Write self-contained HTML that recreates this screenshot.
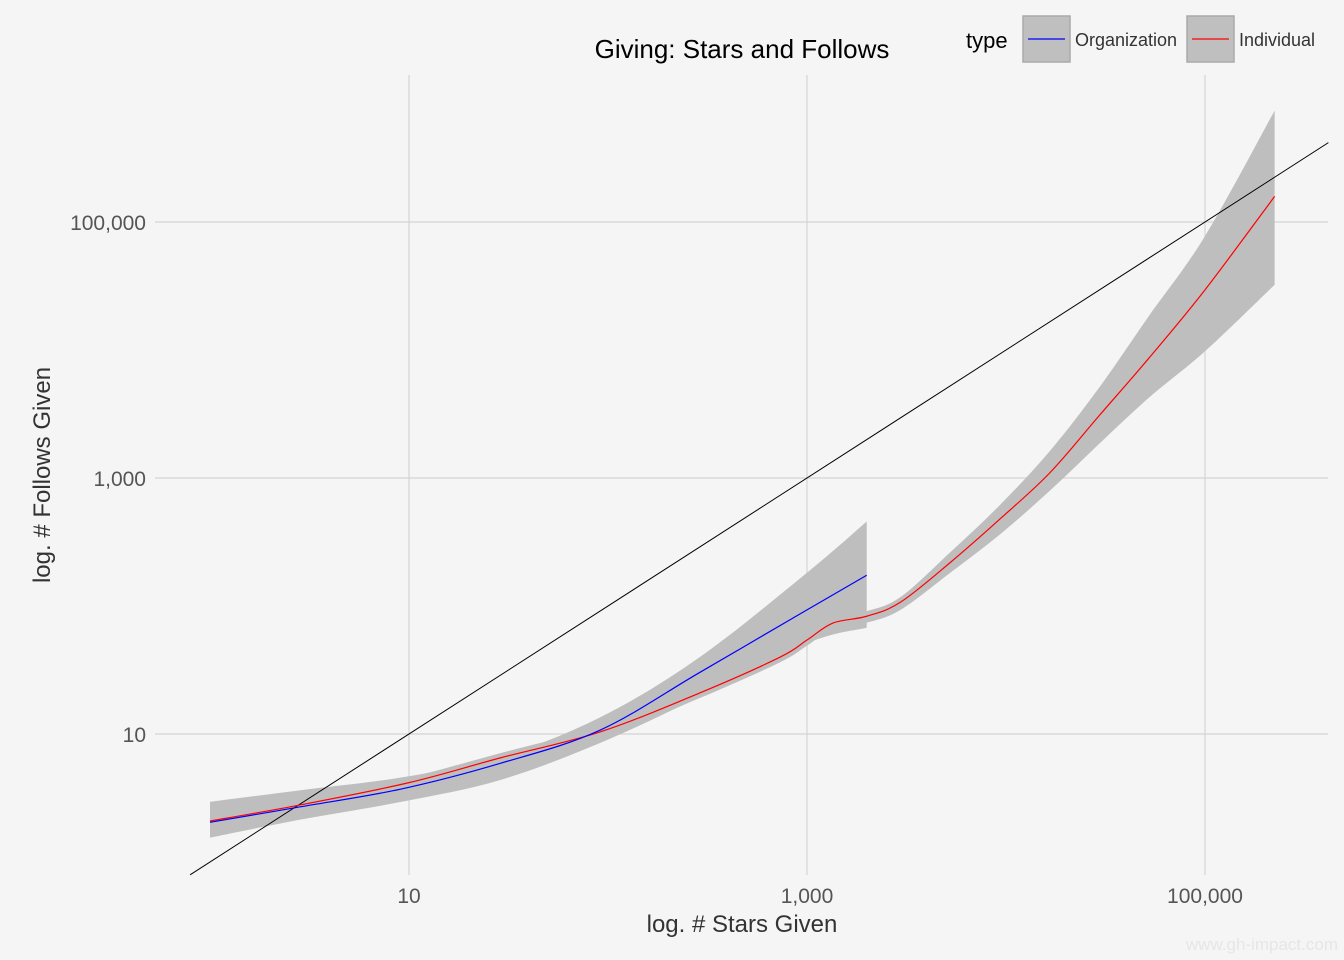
<!DOCTYPE html>
<html><head><meta charset="utf-8">
<style>
body{margin:0;background:#f5f5f5;font-family:"Liberation Sans",sans-serif;}
svg{display:block}
</style></head>
<body>
<svg id="chart" width="1344" height="960">
<rect width="1344" height="960" fill="#f5f5f5"/>
<g id="grid"></g><g id="bands"></g><g id="lines"></g><g id="axes"></g>
<text x="742" y="58" font-size="26" text-anchor="middle" fill="#000">Giving: Stars and Follows</text>
<text x="742" y="932" font-size="24" text-anchor="middle" fill="#333">log. # Stars Given</text>
<text transform="translate(50,475) rotate(-90)" font-size="24" text-anchor="middle" fill="#333">log. # Follows Given</text>
<g>
<text x="966" y="48" font-size="22" fill="#000">type</text>
<g>
<rect x="1023" y="16" width="47" height="46" fill="#bfbfbf" stroke="#aaa" stroke-width="1.5"/>
<line x1="1028" y1="39" x2="1065" y2="39" stroke="#0000ff" stroke-width="1.2"/>
<text x="1075" y="46" font-size="18" fill="#333">Organization</text></g>
<g>
<rect x="1187" y="16" width="47" height="46" fill="#bfbfbf" stroke="#aaa" stroke-width="1.5"/>
<line x1="1192" y1="39" x2="1229" y2="39" stroke="#ff0000" stroke-width="1.2"/>
<text x="1239" y="46" font-size="18" fill="#333">Individual</text></g>
</g>
<text x="1338" y="950" font-size="17" text-anchor="end" fill="#e6e6e6">www.gh-impact.com</text>
</svg>
<script>
// log10 values
const xTicks=[1,3,5];
const xTickLabels=["10","1,000","100,000"];
const yTicks=[1,3,5];
const yTickLabels=["10","1,000","100,000"];
const orgX=[0,0.45,0.96,1.457,1.96,2.46,3,3.3];
const orgY=[0.31,0.43,0.57,0.77,1.03,1.48,1.97,2.24];
const orgLo=[0.19,0.33,0.47,0.64,0.93,1.29,1.71,1.83];
const orgHi=[0.47,0.56,0.66,0.82,1.13,1.60,2.26,2.66];
const indX=[0,0.45,1,1.457,1.96,2.46,2.864,3,3.13,3.3,3.47,3.72,3.97,4.22,4.47,4.72,5,5.35];
const indY=[0.32,0.445,0.62,0.8125,1.016,1.32,1.60,1.734,1.867,1.92,2.03,2.34,2.68,3.04,3.49,3.94,4.47,5.20];
const indLo=[0.28,0.41,0.58,0.77,0.97,1.28,1.56,1.69,1.82,1.87,1.97,2.26,2.56,2.90,3.27,3.63,3.99,4.51];
const indHi=[0.36,0.48,0.66,0.85,1.06,1.36,1.64,1.78,1.91,1.96,2.07,2.42,2.79,3.21,3.71,4.27,4.89,5.87];
const refLine=[-0.1,5.62];

const sx=v=>409+(v-1)*199, sy=v=>734-(v-1)*128;
const NS="http://www.w3.org/2000/svg";
function mk(p,t,a){const e=document.createElementNS(NS,t);for(const k in a)e.setAttribute(k,a[k]);document.getElementById(p).appendChild(e);return e;}
function pts(xs,ys){return xs.map((x,i)=>[sx(x),sy(ys[i])]);}
function curve(p){let d="M"+p[0][0]+","+p[0][1];for(let i=0;i<p.length-1;i++){const p0=p[i-1]||p[i],p1=p[i],p2=p[i+1],p3=p[i+2]||p2;
d+=" C"+(p1[0]+(p2[0]-p0[0])/6)+","+(p1[1]+(p2[1]-p0[1])/6)+" "+(p2[0]-(p3[0]-p1[0])/6)+","+(p2[1]-(p3[1]-p1[1])/6)+" "+p2[0]+","+p2[1];}return d;}
xTicks.forEach(v=>{const g=mk("grid","line",{x1:sx(v),x2:sx(v),y1:75,y2:875,stroke:"#d4d4d4","stroke-width":1.2});

});
yTicks.forEach(v=>{const g=mk("grid","line",{x1:155,x2:1328,y1:sy(v),y2:sy(v),stroke:"#d4d4d4","stroke-width":1.2});

});
xTicks.forEach((v,i)=>{const t=mk("axes","text",{x:sx(v),y:903,"font-size":21,"text-anchor":"middle",fill:"#555"});t.textContent=xTickLabels[i];

});
yTicks.forEach((v,i)=>{const t=mk("axes","text",{x:146,y:sy(v)+8,"font-size":21,"text-anchor":"end",fill:"#555"});t.textContent=yTickLabels[i];

});
function band(xs,lo,hi,name){const up=pts(xs,hi),dn=pts(xs,lo).reverse();
const d=curve(up)+" L"+dn[0][0]+","+dn[0][1]+curve(dn).replace(/^M[^ ]+/,"")+" Z";
const b=mk("bands","path",{d:d,fill:"#bebebe"});

}
band(orgX,orgLo,orgHi,'organization-confidence-band');
band(indX,indLo,indHi,'individual-confidence-band');
const r=mk("lines","line",{x1:sx(refLine[0]),y1:sy(refLine[0]),x2:sx(refLine[1]),y2:sy(refLine[1]),stroke:"#000","stroke-width":1});


const li=mk("lines","path",{d:curve(pts(indX,indY)),fill:"none",stroke:"#ff0000","stroke-width":1.2});


const lo=mk("lines","path",{d:curve(pts(orgX,orgY)),fill:"none",stroke:"#0000ff","stroke-width":1.2});


</script>
</body></html>
